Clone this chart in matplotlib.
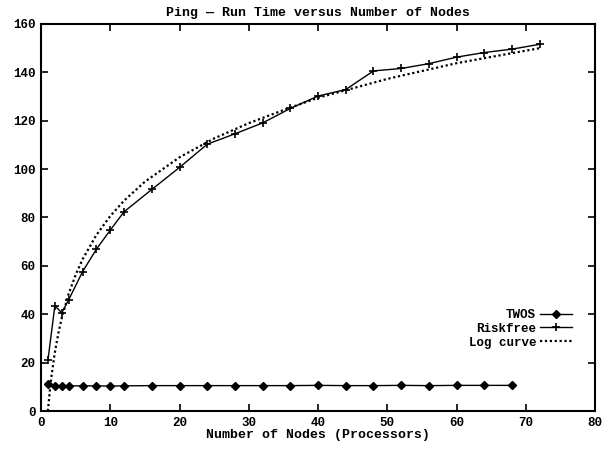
"""
    ping_runtime.py
"""

import matplotlib
matplotlib.use("Agg")
import matplotlib.pyplot as plt

""" Ping -- run time versus number of nodes """

twos_nodes = [1, 2, 3, 4, 6, 8, 10, 12, 16, 20, 24, 28, 32, 36, 40, 44, 48, 52, 56, 60, 64, 68]
twos_time = [11.0, 10.5, 10.3, 10.4, 10.4, 10.4, 10.3, 10.4, 10.5, 10.5, 10.5, 10.5, 10.5, 10.5,
             10.6, 10.5, 10.5, 10.6, 10.5, 10.6, 10.6, 10.6]

risk_nodes = [1, 2, 3, 4, 6, 8, 10, 12, 16, 20, 24, 28, 32, 36, 40, 44, 48, 52, 56, 60, 64, 68, 72]
risk_time = [21, 43.5, 40.6, 46, 57.6, 66.9, 74.8, 82.4, 91.6, 100.7, 110.3, 114.6, 119.1, 125.1,
             130.2, 132.9, 140.6, 141.6, 143.6, 146.3, 148.2, 149.6, 151.6]

log_nodes = [1, 1.25, 1.5, 2, 2.5, 3, 4, 5, 6, 8, 10, 12, 15, 20, 25, 30, 35, 40, 50, 60, 72]
log_time = [0, 7.8, 14.2, 24.3, 32.1, 38.5, 48.5, 56.3, 62.7, 72.8, 80.6, 87.0, 94.8, 104.9,
            112.7, 119.0, 124.4, 129.5, 137.3, 143.8, 150.0]

x_ticks = list(range(0, 81, 10))
y_ticks = list(range(0, 161, 20))

font = "Liberation Mono"
plt.rcParams["font.family"] = [font, "DejaVu Sans Mono"]
plt.rcParams["font.weight"] = "bold"
plt.rcParams["font.size"] = 9

fig = plt.figure(figsize=(6.03, 4.49), dpi=100)
ax = fig.add_axes([0.068, 0.0846, 0.919, 0.862])

ax.plot(twos_nodes, twos_time, color="black", lw=1.0, marker="D", ms=4.5, label="TWOS")
ax.plot(risk_nodes, risk_time, color="black", lw=1.0, marker="+", ms=6, mew=1.2, label="Riskfree")
ax.plot(log_nodes, log_time, color="black", lw=1.6, linestyle=(0, (1, 1.2)), label="Log curve")

ax.set_xlim(0, 80)
ax.set_ylim(0, 160)
ax.set_xticks(x_ticks)
ax.set_yticks(y_ticks)
ax.tick_params(direction="in", length=5, width=1.2, top=True, right=True, pad=4)
for s in ax.spines.values():
    s.set_linewidth(1.5)

ax.set_title("Ping \u2014 Run Time versus Number of Nodes", fontsize=9.5, fontweight="bold", pad=6)
ax.set_xlabel("Number of Nodes (Processors)", fontsize=9.5, fontweight="bold", labelpad=0)

ax.legend(loc="upper right", bbox_to_anchor=(0.97, 0.28), frameon=False, markerfirst=False,
          borderpad=0, handlelength=2.6, handletextpad=0.3, labelspacing=0.15, fontsize=9)

fig.savefig("out.png", dpi=100)
